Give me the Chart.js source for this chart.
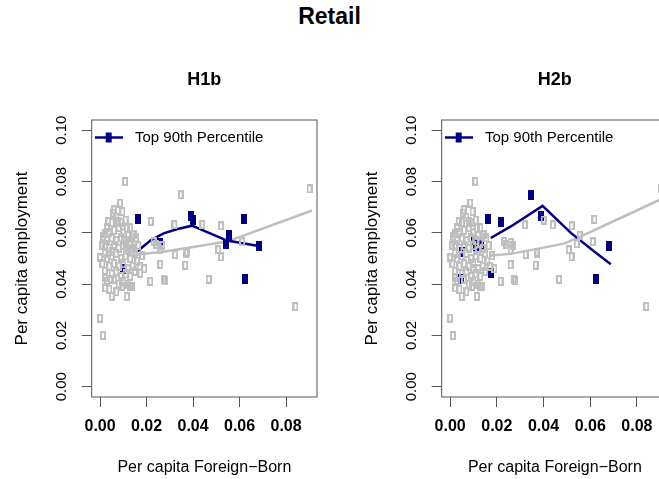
<!DOCTYPE html>
<html lang="en">
<head>
  <meta charset="UTF-8" />
  <title>Retail</title>
  <script src="https://cdn.jsdelivr.net/npm/chart.js"></script>
  <style>
    html, body {
      margin: 0;
      width: 659px;
      height: 479px;
      overflow: hidden;
      background: #fff;
      font-family: "Liberation Sans", Arial, sans-serif;
    }
    .main-title {
      position: absolute;
      top: 3px;
      left: 0;
      width: 659px;
      text-align: center;
      font-size: 23px;
      font-weight: bold;
    }
    .panel { position: absolute; top: 0; }
    #left { left: 0; }
    #right { left: 330px; }
  </style>
</head>
<body>

<div class="main-title">Retail</div>
<canvas id="left" class="panel" width="330" height="479"></canvas>
<canvas id="right" class="panel" width="345" height="479"></canvas>

<script>
  // per capita foreign-born (x) and per capita employment (y), one entry per county
  const foreignBorn = [
    0.0163, 0.0390, 0.0400, 0.0259, 0.0555, 0.0542, 0.0618, 0.0682, 0.0625, 0.0100,
    0.0218, 0.0347, 0.0173, 0.0046, 0.0102, 0.0053, 0.0110, 0.0131,
    0.0108, 0.0086, 0.0096, 0.0057, 0.0320, 0.0036, 0.0079, 0.0115, 0.0022, 0.0144,
    0.0230, 0.0259, 0.0180, 0.0014, 0.0022, 0.0000, 0.0259, 0.0216, 0.0273, 0.0323,
    0.0370, 0.0366, 0.0129, 0.0050, 0.0115, 0.0022, 0.0000, 0.0012, 0.0137, 0.0094,
    0.0022, 0.0280, 0.0901, 0.0440, 0.0520, 0.0374, 0.0508, 0.0520, 0.0611, 0.0467,
    0.0840, 0.0240, 0.0268,
    0.004, 0.006, 0.008, 0.010, 0.012, 0.003, 0.005, 0.007, 0.009, 0.011, 0.013,
    0.002, 0.004, 0.006, 0.008, 0.010, 0.012, 0.014, 0.003, 0.005, 0.007, 0.009,
    0.011, 0.013, 0.015, 0.001, 0.004, 0.006, 0.008, 0.010, 0.012, 0.014, 0.016,
    0.002, 0.005, 0.007, 0.009, 0.011, 0.013, 0.015, 0.003, 0.006, 0.008, 0.010,
    0.012, 0.004, 0.007, 0.005, 0.007, 0.009, 0.011, 0.006, 0.013, 0.003, 0.001,
    0.0165, 0.017, 0.019, 0.0155
  ];
  const employment = [
    0.0655, 0.0664, 0.0650, 0.0562, 0.0590, 0.0557, 0.0653, 0.0549, 0.0420, 0.0460,
    0.0644, 0.0748, 0.0443, 0.0420, 0.0573, 0.0527, 0.0534, 0.0553,
    0.0800, 0.0716, 0.0683, 0.0677, 0.0631, 0.0644, 0.0644, 0.0618, 0.0599, 0.0592,
    0.0566, 0.0534, 0.0510, 0.0586, 0.0553, 0.0502, 0.0476, 0.0411, 0.0417, 0.0515,
    0.0521, 0.0474, 0.0391, 0.0352, 0.0352, 0.0424, 0.0268, 0.0200, 0.0389, 0.0391,
    0.0385, 0.0415, 0.0771, 0.0631, 0.0627, 0.0524, 0.0534, 0.0506, 0.0565, 0.0419,
    0.0313, 0.0556, 0.0550,
    0.060, 0.061, 0.062, 0.060, 0.059, 0.057, 0.058, 0.057, 0.058, 0.057, 0.056,
    0.052, 0.054, 0.055, 0.054, 0.055, 0.053, 0.054, 0.050, 0.051, 0.052, 0.050,
    0.051, 0.050, 0.052, 0.048, 0.047, 0.048, 0.047, 0.048, 0.046, 0.047, 0.049,
    0.045, 0.044, 0.045, 0.043, 0.044, 0.043, 0.045, 0.041, 0.042, 0.040, 0.041,
    0.040, 0.038, 0.037, 0.064, 0.066, 0.064, 0.065, 0.069, 0.062, 0.062, 0.055,
    0.055, 0.047, 0.046, 0.058
  ];

  // counties in the top 90th percentile (indices into the arrays above)
  const top90H1b = [0, 1, 2, 3, 4, 5, 6, 7, 8, 9];
  const top90H2b = [0, 10, 11, 1, 12, 7, 8, 13, 14, 15, 16, 17];

  // smoothed line through the top 90th percentile
  const h1bTopLineX = [0.0158, 0.0218, 0.0273, 0.0330, 0.0395, 0.0546, 0.0682];
  const h1bTopLineY = [0.0526, 0.0571, 0.0598, 0.0614, 0.0628, 0.0570, 0.0549];
  const h2bTopLineX = [0.0174, 0.0260, 0.0396, 0.0517, 0.0617, 0.0688];
  const h2bTopLineY = [0.0580, 0.0625, 0.0705, 0.0600, 0.0527, 0.0478];

  // fitted line through all counties
  const h1bFitX = [0.0120, 0.0280, 0.0546, 0.0912];
  const h1bFitY = [0.0512, 0.0527, 0.0566, 0.0687];
  const h2bFitX = [0.0174, 0.0260, 0.0488, 0.0560, 0.0905];
  const h2bFitY = [0.0512, 0.0518, 0.0558, 0.0586, 0.0732];

  const xTicks = [0.00, 0.02, 0.04, 0.06, 0.08];
  const yTicks = [0.00, 0.02, 0.04, 0.06, 0.08, 0.10];

  const GRAY = '#bebebe';
  const NAVY = '#000080';
  const FONT = '"Liberation Sans", Arial, sans-serif';

  function markImage(w, h, filled, color) {
    const c = document.createElement('canvas');
    c.width = w; c.height = h;
    const g = c.getContext('2d');
    if (filled) {
      g.fillStyle = color;
      g.fillRect(0, 0, w, h);
    } else {
      g.strokeStyle = color;
      g.lineWidth = 2;
      g.strokeRect(1, 1, w - 2, h - 2);
    }
    return c;
  }
  const grayMark = markImage(6, 9, false, GRAY);
  const navyMark = markImage(6, 10, true, NAVY);

  const pairs = (xs, ys) => xs.map((x, i) => ({ x: x, y: ys[i] }));

  const decor = {
    id: 'decor',
    afterDraw(chart, args, opts) {
      const { ctx, chartArea: a, scales: { y } } = chart;
      ctx.save();
      ctx.strokeStyle = '#555';
      ctx.lineWidth = 1;
      ctx.strokeRect(a.left, a.top, a.right - a.left, a.bottom - a.top);

      ctx.fillStyle = '#000';
      ctx.textAlign = 'center';
      ctx.textBaseline = 'middle';

      // y tick labels, rotated like R's default
      ctx.font = '15px ' + FONT;
      yTicks.forEach(v => {
        ctx.save();
        ctx.translate(a.left - 30, y.getPixelForValue(v));
        ctx.rotate(-Math.PI / 2);
        ctx.fillText(v.toFixed(2), 0, 0);
        ctx.restore();
      });

      const cx = (a.left + a.right) / 2;
      ctx.font = '17px ' + FONT;
      ctx.save();
      ctx.translate(a.left - 69, (a.top + a.bottom) / 2);
      ctx.rotate(-Math.PI / 2);
      ctx.fillText('Per capita employment', 0, 0);
      ctx.restore();

      ctx.font = '16px ' + FONT;
      ctx.fillText('Per capita Foreign\u2212Born', cx, 468);

      ctx.font = 'bold 18px ' + FONT;
      ctx.fillText(opts.title, cx, 80);

      // legend
      const ly = 137.5;
      ctx.strokeStyle = NAVY;
      ctx.lineWidth = 2.5;
      ctx.beginPath();
      ctx.moveTo(a.left + 3.3, ly);
      ctx.lineTo(a.left + 31.3, ly);
      ctx.stroke();
      ctx.fillStyle = NAVY;
      ctx.fillRect(a.left + 14, ly - 5, 6, 10);
      ctx.fillStyle = '#000';
      ctx.textAlign = 'left';
      ctx.font = '15px ' + FONT;
      ctx.fillText('Top 90th Percentile', a.left + 43.3, ly);
      ctx.restore();
    }
  };

  function makePanel(id, title, top, lineX, lineY, fitX, fitY, axisWidth, padRight) {
    const others = foreignBorn.map((_, i) => i).filter(i => !top.includes(i));
    new Chart(document.getElementById(id), {
      type: 'scatter',
      data: {
        datasets: [
          {
            data: others.map(i => ({ x: foreignBorn[i], y: employment[i] })),
            pointStyle: grayMark, pointRadius: 3, order: 0
          },
          {
            data: top.map(i => ({ x: foreignBorn[i], y: employment[i] })),
            pointStyle: navyMark, pointRadius: 3, order: 1
          },
          {
            type: 'line', data: pairs(lineX, lineY),
            borderColor: NAVY, borderWidth: 2.5, pointRadius: 0, tension: 0, order: 2
          },
          {
            type: 'line', data: pairs(fitX, fitY),
            borderColor: GRAY, borderWidth: 2.5, pointRadius: 0, tension: 0, order: 3
          }
        ]
      },
      options: {
        responsive: false,
        animation: false,
        layout: { padding: { left: 0, right: padRight, top: 120, bottom: 0 } },
        plugins: { legend: { display: false }, tooltip: { enabled: false }, decor: { title: title } },
        scales: {
          x: {
            type: 'linear', min: -0.0036, max: 0.0933,
            afterBuildTicks: s => { s.ticks = xTicks.map(v => ({ value: v })); },
            afterFit: s => { s.height = 82; },
            grid: { drawOnChartArea: false, drawTicks: true, tickLength: 10, color: '#555' },
            border: { display: false },
            ticks: {
              padding: 10, color: '#000', maxRotation: 0,
              font: { family: FONT, size: 16, weight: 'bold' },
              callback: v => v.toFixed(2)
            }
          },
          y: {
            type: 'linear', min: -0.004, max: 0.104,
            afterBuildTicks: s => { s.ticks = yTicks.map(v => ({ value: v })); },
            afterFit: s => { s.width = axisWidth; },
            grid: { drawOnChartArea: false, drawTicks: true, tickLength: 10, color: '#555' },
            border: { display: false },
            ticks: { display: false }
          }
        }
      },
      plugins: [decor]
    });
  }

  makePanel('left', 'H1b', top90H1b, h1bTopLineX, h1bTopLineY, h1bFitX, h1bFitY, 91.7, 13);
  makePanel('right', 'H2b', top90H2b, h2bTopLineX, h2bTopLineY, h2bFitX, h2bFitY, 111.7, 7);
</script>

</body>
</html>
